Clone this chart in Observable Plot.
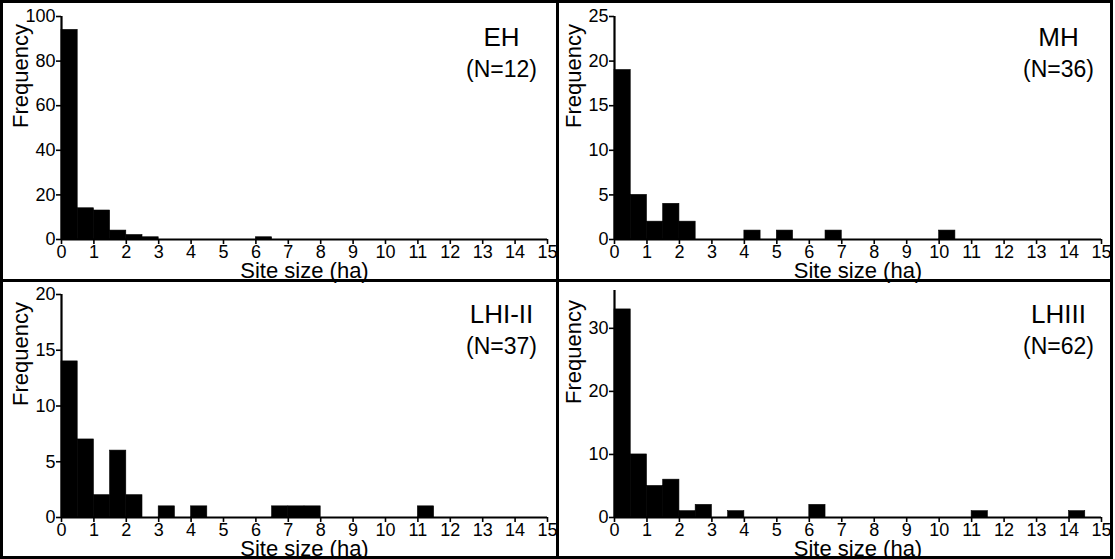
<!DOCTYPE html>
<html><head><meta charset="utf-8">
<script src="https://cdn.jsdelivr.net/npm/d3@7"></script>
<script src="https://cdn.jsdelivr.net/npm/@observablehq/plot@0.6"></script>
<style>
body{margin:0;background:#fff;}
#fig{position:relative;width:1115px;height:559px;overflow:hidden;background:#fff;font-family:"Liberation Sans",Arial,sans-serif;}
.panel{position:absolute;}
.ln{position:absolute;background:#000;}
</style></head><body><div id="fig"></div>
<script>
const binWidth = 0.5;
const xTicks = [0,1,2,3,4,5,6,7,8,9,10,11,12,13,14,15];
const xLabel = "Site size (ha)";
const yLabel = "Frequency";

const ehStarts = [0,0.5,1,1.5,2,2.5,6];
const ehCounts = [94,14,13,4,2,1,1];
const ehTicks = [0,20,40,60,80,100];

const mhStarts = [0,0.5,1,1.5,2,4,5,6.5,10];
const mhCounts = [19,5,2,4,2,1,1,1,1];
const mhTicks = [0,5,10,15,20,25];

const lh12Starts = [0,0.5,1,1.5,2,3,4,6.5,7,7.5,11];
const lh12Counts = [14,7,2,6,2,1,1,1,1,1,1];
const lh12Ticks = [0,5,10,15,20];

const lh3Starts = [0,0.5,1,1.5,2,2.5,3.5,6,11,14];
const lh3Counts = [33,10,5,6,1,2,1,2,1,1];
const lh3Ticks = [0,10,20,30];

const panels = [
  {starts: ehStarts, counts: ehCounts, yDomain: [0,100], yTicks: ehTicks, title: "EH", n: "(N=12)",
   left: 0, top: 0, width: 557, height: 280, mt: 16, mb: 41, ml: 61, mr: 10, titleY: 45, nY: 76},
  {starts: mhStarts, counts: mhCounts, yDomain: [0,25], yTicks: mhTicks, title: "MH", n: "(N=36)",
   left: 557, top: 0, width: 558, height: 280, mt: 16, mb: 41, ml: 57, mr: 14, titleY: 45, nY: 76},
  {starts: lh12Starts, counts: lh12Counts, yDomain: [0,20], yTicks: lh12Ticks, title: "LHI-II", n: "(N=37)",
   left: 0, top: 280, width: 557, height: 279, mt: 14, mb: 42, ml: 61, mr: 10, titleY: 42, nY: 73},
  {starts: lh3Starts, counts: lh3Counts, yDomain: [0,36], yTicks: lh3Ticks, title: "LHIII", n: "(N=62)",
   left: 557, top: 280, width: 558, height: 279, mt: 10, mb: 42, ml: 57, mr: 14, titleY: 42, nY: 73}
];

const fig = document.getElementById("fig");
const font = "'Liberation Sans', Arial, sans-serif";

for (const p of panels) {
  const rows = p.starts.map((s, i) => ({x1: s, x2: s + binWidth, y: p.counts[i]}));
  const frameRight = p.width - p.mr;
  const cx = 501 - frameRight;
  const chart = Plot.plot({
    width: p.width, height: p.height,
    marginTop: p.mt, marginBottom: p.mb, marginLeft: p.ml, marginRight: p.mr,
    style: {fontFamily: font, fontSize: "18px", color: "#000", background: "transparent", overflow: "visible"},
    x: {domain: [0, 15]},
    y: {domain: p.yDomain},
    marks: [
      Plot.rectY(rows, {x1: "x1", x2: "x2", y: "y", fill: "#000", stroke: "#000", strokeWidth: 0.6, inset: 0}),
      Plot.axisX({ticks: xTicks, tickSize: 5, tickPadding: 1, strokeWidth: 1.6, fontSize: 18, label: null, tickFormat: d => String(d)}),
      Plot.axisY({ticks: p.yTicks, tickSize: 5, tickPadding: 1, strokeWidth: 1.6, fontSize: 18, label: null, tickFormat: d => String(d)}),
      Plot.ruleY([0], {strokeWidth: 2.2}),
      Plot.ruleX([0], {strokeWidth: 2.2}),
      Plot.text([xLabel], {frameAnchor: "bottom", dy: 38, lineAnchor: "bottom", fontSize: 22}),
      Plot.text([yLabel], {frameAnchor: "left", rotate: -90, dx: -34, lineAnchor: "bottom", fontSize: 22}),
      Plot.text([p.title], {frameAnchor: "top-right", textAnchor: "middle", dx: cx, dy: p.titleY - p.mt, lineAnchor: "bottom", fontSize: 26}),
      Plot.text([p.n], {frameAnchor: "top-right", textAnchor: "middle", dx: cx, dy: p.nY - p.mt, lineAnchor: "bottom", fontSize: 23})
    ]
  });
  const wrap = document.createElement("div");
  wrap.className = "panel";
  wrap.style.left = p.left + "px";
  wrap.style.top = p.top + "px";
  wrap.appendChild(chart);
  fig.appendChild(wrap);
}

// frame lines
const lines = [
  [0, 0, 1113, 3], [0, 556, 1113, 3], [0, 0, 3, 559], [1110, 0, 3, 559],
  [556, 0, 3, 559], [0, 279, 1113, 3]
];
for (const [l, t, w, h] of lines) {
  const d = document.createElement("div");
  d.className = "ln";
  d.style.left = l + "px"; d.style.top = t + "px";
  d.style.width = w + "px"; d.style.height = h + "px";
  fig.appendChild(d);
}
</script></body></html>
